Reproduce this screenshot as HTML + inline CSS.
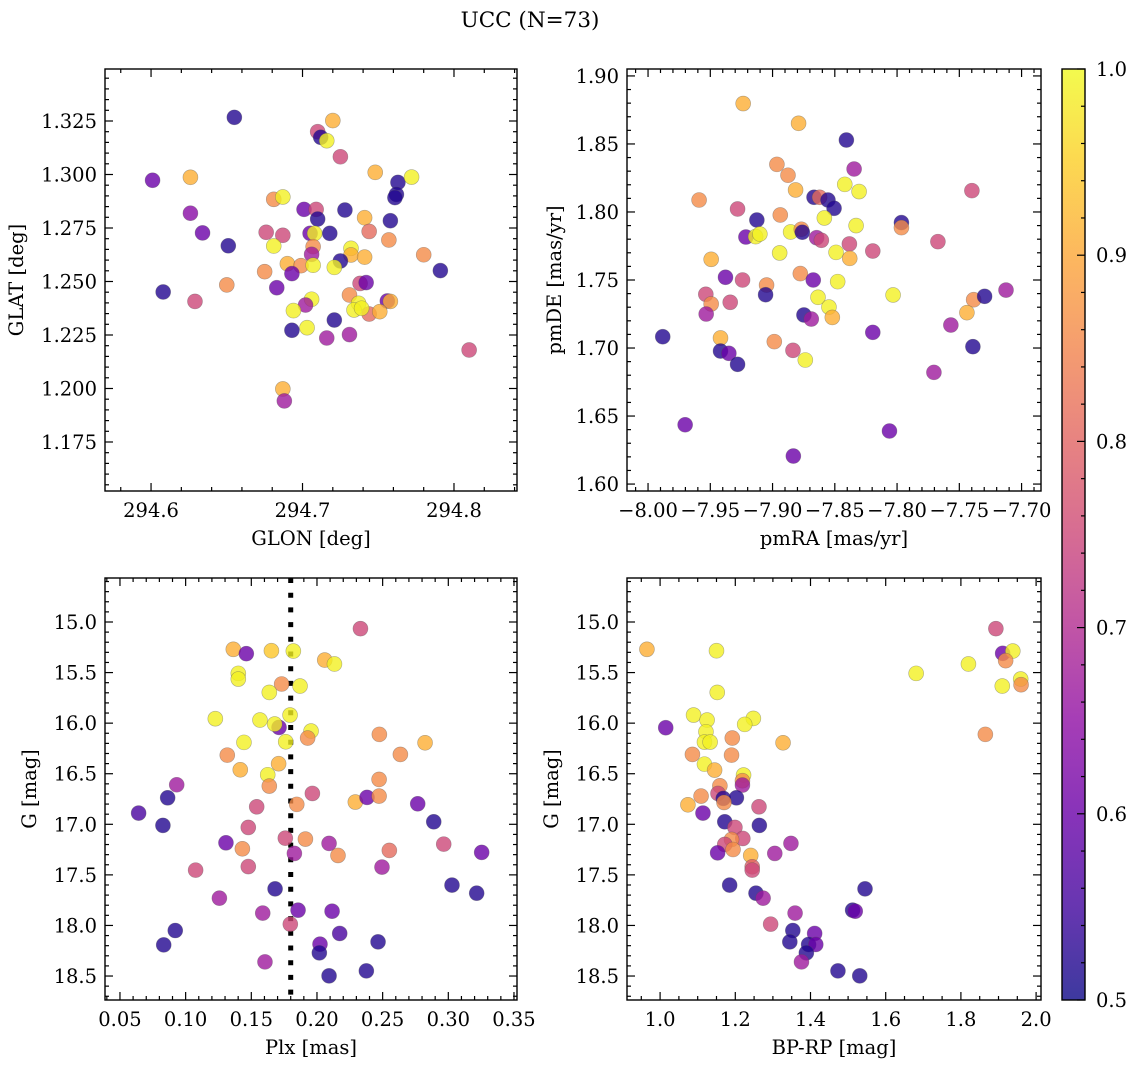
<!DOCTYPE html>
<html><head><meta charset="utf-8"><style>
html,body{margin:0;padding:0;background:#fff;}
svg text{font-family:"DejaVu Serif","Liberation Serif",serif;fill:#000;}
</style></head><body>
<svg id="fig" width="1136" height="1068" viewBox="0 0 1136 1068" xmlns="http://www.w3.org/2000/svg">
<text x="530" y="27" font-size="21.5" text-anchor="middle">UCC (N=73)</text>
</svg>
<script>
// ---- Panel 1: GLON / GLAT ----
const glon = [294.655,294.720,294.710,294.712,294.716,294.725,294.601,294.626,294.748,294.763,294.772,294.762,294.761,294.681,294.687,294.626,294.701,294.709,294.710,294.728,294.741,294.758,294.634,294.676,294.687,294.705,294.708,294.718,294.744,294.757,294.651,294.681,294.707,294.706,294.732,294.732,294.741,294.725,294.690,294.699,294.707,294.721,294.780,294.791,294.675,294.693,294.683,294.608,294.629,294.650,294.738,294.742,294.731,294.756,294.758,294.706,294.702,294.694,294.737,294.734,294.744,294.751,294.739,294.721,294.693,294.703,294.716,294.731,294.810,294.687,294.688];
const glat = [1.3267,1.3252,1.320,1.3174,1.3158,1.3083,1.2973,1.2987,1.301,1.2963,1.2988,1.2907,1.2892,1.2884,1.2895,1.2819,1.2837,1.2837,1.2792,1.2834,1.2798,1.2784,1.2727,1.273,1.2716,1.2725,1.2725,1.2725,1.2734,1.2694,1.2667,1.2666,1.2663,1.2627,1.2655,1.2624,1.2614,1.2596,1.2583,1.2574,1.2576,1.2566,1.2625,1.2551,1.2546,1.2537,1.2471,1.2451,1.2407,1.2484,1.2491,1.2495,1.2437,1.2409,1.2407,1.2417,1.239,1.2364,1.2398,1.2367,1.2348,1.2359,1.2375,1.232,1.2272,1.2284,1.2236,1.2252,1.218,1.1998,1.1942];
const prob1 = [0.52,0.91,0.75,0.52,0.99,0.75,0.6,0.91,0.91,0.52,0.99,0.52,0.52,0.86,0.99,0.64,0.6,0.75,0.52,0.52,0.91,0.52,0.6,0.75,0.75,0.6,0.99,0.52,0.81,0.86,0.52,0.99,0.86,0.67,0.99,0.91,0.91,0.52,0.91,0.86,0.99,0.99,0.86,0.52,0.86,0.6,0.6,0.52,0.75,0.86,0.75,0.6,0.86,0.6,0.91,0.99,0.67,0.99,0.99,0.99,0.81,0.91,0.99,0.52,0.52,0.99,0.67,0.67,0.75,0.91,0.67];
// ---- Panel 2: pmRA / pmDE ----
const pmra = [-7.9236,-7.8791,-7.8407,-7.8345,-7.8965,-7.8876,-7.842,-7.8305,-7.8815,-7.8667,-7.8622,-7.8555,-7.8506,-7.959,-7.9281,-7.7399,-7.9126,-7.8938,-7.8584,-7.8329,-7.7965,-7.7965,-7.9214,-7.9136,-7.9102,-7.8855,-7.8769,-7.8761,-7.8646,-7.8608,-7.8383,-7.8195,-7.7672,-7.8943,-7.849,-7.838,-7.9493,-7.9378,-7.9241,-7.9048,-7.9056,-7.8777,-7.8673,-7.8477,-7.9536,-7.9493,-7.934,-7.9533,-7.8635,-7.8547,-7.852,-7.8748,-7.8689,-7.8032,-7.7385,-7.7297,-7.7125,-7.7439,-7.7568,-7.8195,-7.9882,-7.9418,-7.9418,-7.9351,-7.9281,-7.8986,-7.8836,-7.8737,-7.7391,-7.7704,-7.9702,-7.8061,-7.8833];
const pmde = [1.8797,1.8652,1.8529,1.8316,1.835,1.827,1.8203,1.815,1.8162,1.8108,1.8108,1.8088,1.8027,1.8088,1.8022,1.8157,1.7941,1.7978,1.7956,1.79,1.7922,1.7885,1.7816,1.7819,1.7838,1.7853,1.7873,1.7851,1.7811,1.7792,1.7765,1.7713,1.7782,1.7699,1.7703,1.7659,1.7652,1.752,1.75,1.7463,1.7392,1.7547,1.75,1.7488,1.7395,1.7324,1.7336,1.725,1.7373,1.7301,1.7225,1.7243,1.7213,1.739,1.7355,1.738,1.7426,1.726,1.7169,1.7115,1.7083,1.7074,1.6978,1.6961,1.688,1.7047,1.6983,1.6912,1.701,1.6821,1.6436,1.639,1.6206];
const prob2 = [0.91,0.91,0.52,0.67,0.86,0.86,0.99,0.99,0.91,0.52,0.81,0.52,0.52,0.86,0.75,0.75,0.52,0.86,0.99,0.99,0.52,0.86,0.6,0.99,0.99,0.99,0.86,0.52,0.67,0.75,0.75,0.75,0.75,0.99,0.99,0.91,0.91,0.6,0.75,0.86,0.52,0.86,0.6,0.99,0.75,0.86,0.75,0.67,0.99,0.99,0.91,0.52,0.67,0.99,0.86,0.52,0.67,0.91,0.67,0.6,0.52,0.91,0.52,0.6,0.52,0.86,0.75,0.99,0.52,0.67,0.6,0.6,0.6];
// ---- Panel 3: Plx / G ----
const plx = [0.2331,0.1363,0.1462,0.1653,0.182,0.2059,0.2133,0.1401,0.1401,0.1731,0.1871,0.1637,0.1795,0.1226,0.1566,0.1711,0.1678,0.1955,0.1929,0.1444,0.1762,0.2475,0.2823,0.1317,0.2635,0.1416,0.1708,0.1625,0.1637,0.0932,0.0863,0.0642,0.0827,0.1541,0.1846,0.1965,0.2292,0.2381,0.2473,0.2473,0.2767,0.2889,0.1477,0.1307,0.1432,0.1759,0.1912,0.1828,0.2092,0.216,0.2551,0.2965,0.3254,0.1076,0.1477,0.2495,0.1681,0.3028,0.3216,0.1257,0.1587,0.1856,0.2115,0.1797,0.0921,0.0833,0.2173,0.2023,0.2018,0.2465,0.1604,0.2092,0.2376];
const gmag3 = [15.066,15.27,15.313,15.284,15.287,15.376,15.415,15.508,15.564,15.613,15.633,15.696,15.92,15.956,15.969,16.042,16.009,16.078,16.147,16.19,16.184,16.111,16.194,16.316,16.309,16.461,16.401,16.51,16.622,16.609,16.738,16.889,17.011,16.827,16.803,16.695,16.78,16.734,16.556,16.721,16.797,16.975,17.031,17.183,17.242,17.137,17.146,17.288,17.189,17.308,17.258,17.196,17.278,17.453,17.418,17.423,17.638,17.601,17.681,17.73,17.878,17.849,17.859,17.987,18.05,18.192,18.079,18.185,18.271,18.162,18.36,18.498,18.449];
const prob3 = [0.75,0.91,0.6,0.94,0.99,0.91,0.99,0.99,0.99,0.86,0.99,0.99,0.99,0.99,0.99,0.6,0.99,0.99,0.86,0.99,0.99,0.86,0.91,0.86,0.86,0.91,0.91,0.99,0.86,0.67,0.52,0.56,0.52,0.75,0.86,0.75,0.91,0.6,0.86,0.86,0.6,0.52,0.75,0.6,0.86,0.75,0.86,0.67,0.67,0.86,0.81,0.75,0.6,0.75,0.75,0.67,0.52,0.52,0.52,0.67,0.67,0.6,0.6,0.75,0.52,0.52,0.56,0.6,0.52,0.52,0.67,0.52,0.52];
const cutPlx = 0.18;
// ---- Panel 4: BP-RP / G ----
const bprp = [1.893,0.965,1.150,1.911,1.938,1.919,1.820,1.681,1.910,1.959,1.960,1.152,1.089,1.125,1.248,1.225,1.015,1.122,1.118,1.133,1.192,1.327,1.086,1.190,1.118,1.145,1.865,1.222,1.219,1.219,1.159,1.154,1.168,1.203,1.170,1.109,1.074,1.114,1.263,1.172,1.264,1.199,1.220,1.190,1.172,1.194,1.153,1.305,1.348,1.241,1.245,1.245,1.185,1.255,1.274,1.545,1.512,1.519,1.359,1.294,1.353,1.411,1.345,1.395,1.414,1.389,1.376,1.473,1.531];
const gmag4 = [15.066,15.27,15.284,15.31,15.287,15.382,15.415,15.508,15.633,15.564,15.62,15.696,15.92,15.969,15.953,16.012,16.045,16.085,16.187,16.187,16.147,16.194,16.309,16.316,16.405,16.464,16.111,16.513,16.569,16.612,16.619,16.695,16.744,16.738,16.784,16.721,16.807,16.889,16.827,16.975,17.011,17.031,17.14,17.15,17.199,17.249,17.282,17.288,17.189,17.308,17.42,17.453,17.601,17.681,17.73,17.638,17.849,17.859,17.878,17.987,18.05,18.079,18.162,18.188,18.188,18.271,18.36,18.449,18.498];
const prob4 = [0.75,0.91,0.99,0.6,0.99,0.86,0.99,0.99,0.99,0.99,0.86,0.99,0.99,0.99,0.99,0.99,0.6,0.99,0.99,0.99,0.86,0.91,0.86,0.86,0.99,0.91,0.86,0.99,0.86,0.67,0.86,0.75,0.52,0.52,0.86,0.86,0.91,0.6,0.75,0.52,0.52,0.75,0.75,0.86,0.75,0.86,0.6,0.67,0.67,0.91,0.79,0.75,0.52,0.52,0.67,0.52,0.52,0.6,0.67,0.75,0.52,0.6,0.52,0.52,0.6,0.52,0.67,0.52,0.52];
// ---- Colorbar ----
const cbTicks = [0.5,0.6,0.7,0.8,0.9,1.0];
const vmin = 0.5, vmax = 1.0;

const NS = "http://www.w3.org/2000/svg";
const svg = document.getElementById('fig');
const TICKFS = 19.5, LABFS = 19.5;
function mk(tag, attrs, parent){
  const e = document.createElementNS(NS, tag);
  for (const k in attrs) e.setAttribute(k, attrs[k]);
  (parent||svg).appendChild(e);
  return e;
}
const stops = [[13,8,135],[65,4,157],[106,0,168],[143,13,164],[177,42,144],[204,71,120],[225,100,98],[242,132,75],[252,166,54],[252,206,37],[240,249,33]];
function plasma(t){
  t = Math.max(0, Math.min(1, t));
  const f = t*10, i = Math.min(9, Math.floor(f)), r = f - i;
  const a = stops[i], b = stops[i+1];
  return `rgb(${Math.round(a[0]+(b[0]-a[0])*r)},${Math.round(a[1]+(b[1]-a[1])*r)},${Math.round(a[2]+(b[2]-a[2])*r)})`;
}
function cmap(v){ return plasma((v - vmin)/(vmax - vmin)); }
function fmt(v, d){ const s = Math.abs(v).toFixed(d); return (v < -1e-9 ? '\u2212' : '') + s; }

function panel(cfg){
  const {name, L, T, R, B, xmin, xmax, ymin, ymax, invY} = cfg;
  const g = mk('g', {});
  
  
  const sx = v => L + (v - xmin)/(xmax - xmin)*(R - L);
  const sy = v => invY ? T + (v - ymin)/(ymax - ymin)*(B - T) : B - (v - ymin)/(ymax - ymin)*(B - T);
  const clip = mk('clipPath', {id: name+'-clip'}, g);
  mk('rect', {x: L, y: T, width: R-L, height: B-T}, clip);
  const marks = mk('g', {'clip-path': `url(#${name}-clip)`}, g);
  
  
  if (cfg.vline !== undefined) {
    const vl = mk('line', {x1: sx(cfg.vline), x2: sx(cfg.vline), y1: T, y2: B, stroke: '#000', 'stroke-width': 5, 'stroke-dasharray': '5 9.7'}, marks);
    
    
  }
  for (let i = 0; i < cfg.xs.length; i++) {
    const c = mk('circle', {cx: sx(cfg.xs[i]), cy: sy(cfg.ys[i]), r: 7.5, fill: cmap(cfg.ps[i]), 'fill-opacity': 0.8, stroke: '#555', 'stroke-opacity': 0.45, 'stroke-width': 0.6}, marks);
    
    
  }
  const ax = mk('g', {stroke: '#000', 'stroke-width': 1.2}, g);
  
  
  const eps = 1e-9;
  for (let v = Math.ceil(xmin/cfg.xminor - eps)*cfg.xminor; v <= xmax + eps; v += cfg.xminor) {
    const x = sx(v);
    const major = Math.abs(v/cfg.xmajor - Math.round(v/cfg.xmajor)) < 1e-4;
    const len = major ? 8 : 4;
    mk('line', {x1: x, x2: x, y1: B, y2: B - len}, ax);
    mk('line', {x1: x, x2: x, y1: T, y2: T + len}, ax);
    if (major) {
      const t = mk('text', {x: x, y: B + 26, 'font-size': TICKFS, 'text-anchor': 'middle', stroke: 'none'}, g);
      t.textContent = fmt(v, cfg.xdec);
      
      
    }
  }
  for (let v = Math.ceil(ymin/cfg.yminor - eps)*cfg.yminor; v <= ymax + eps; v += cfg.yminor) {
    const y = sy(v);
    const major = Math.abs(v/cfg.ymajor - Math.round(v/cfg.ymajor)) < 1e-4;
    const len = major ? 8 : 4;
    mk('line', {x1: L, x2: L + len, y1: y, y2: y}, ax);
    mk('line', {x1: R, x2: R - len, y1: y, y2: y}, ax);
    if (major) {
      const t = mk('text', {x: L - 8, y: y + 7, 'font-size': TICKFS, 'text-anchor': 'end', stroke: 'none'}, g);
      t.textContent = fmt(v, cfg.ydec);
      
      
    }
  }
  mk('rect', {x: L, y: T, width: R-L, height: B-T, fill: 'none', stroke: '#000', 'stroke-width': 1.4}, g);
  const xl = mk('text', {x: (L+R)/2, y: B + 54, 'font-size': LABFS, 'text-anchor': 'middle'}, g);
  xl.textContent = cfg.xlabel;
  
  
  const yx = cfg.ylabx, yc = (T+B)/2;
  const yl = mk('text', {x: yx, y: yc, 'font-size': LABFS, 'text-anchor': 'middle', transform: `rotate(-90 ${yx} ${yc})`}, g);
  yl.textContent = cfg.ylabel;
  
  
}

panel({name:'panel-glon-glat', L:105, T:69, R:517, B:491, xmin:294.5696, xmax:294.8416, ymin:1.1521, ymax:1.3493,
  xs:glon, ys:glat, ps:prob1, xmajor:0.1, xminor:0.02, xdec:1, ymajor:0.025, yminor:0.005, ydec:3,
  xlabel:'GLON [deg]', ylabel:'GLAT [deg]', ylabx:23});
panel({name:'panel-pm', L:627, T:69, R:1041, B:491, xmin:-8.0169, xmax:-7.6844, ymin:1.5949, ymax:1.9051,
  xs:pmra, ys:pmde, ps:prob2, xmajor:0.05, xminor:0.01, xdec:2, ymajor:0.05, yminor:0.01, ydec:2,
  xlabel:'pmRA [mas/yr]', ylabel:'pmDE [mas/yr]', ylabx:561});
panel({name:'panel-plx-g', L:105, T:578, R:517, B:1000, xmin:0.0386, xmax:0.3523, ymin:14.565, ymax:18.737, invY:true,
  xs:plx, ys:gmag3, ps:prob3, xmajor:0.05, xminor:0.01, xdec:2, ymajor:0.5, yminor:0.1, ydec:1,
  xlabel:'Plx [mas]', ylabel:'G [mag]', ylabx:36, vline:cutPlx});
panel({name:'panel-cmd', L:627, T:578, R:1041, B:1000, xmin:0.912, xmax:2.013, ymin:14.565, ymax:18.737, invY:true,
  xs:bprp, ys:gmag4, ps:prob4, xmajor:0.2, xminor:0.05, xdec:1, ymajor:0.5, yminor:0.1, ydec:1,
  xlabel:'BP-RP [mag]', ylabel:'G [mag]', ylabx:558});

(function(){
  const L = 1062, R = 1085, T = 69, B = 1000;
  const g = mk('g', {});
  
  
  const defs = mk('defs', {}, g);
  const lg = mk('linearGradient', {id: 'cbgrad', x1: 0, y1: 1, x2: 0, y2: 0}, defs);
  for (let i = 0; i <= 20; i++) {
    mk('stop', {offset: i/20, 'stop-color': plasma(i/20), 'stop-opacity': 0.8}, lg);
  }
  mk('rect', {x: L, y: T, width: R-L, height: B-T, fill: 'url(#cbgrad)'}, g);
  const sy = v => B - (v - vmin)/(vmax - vmin)*(B - T);
  for (let v = vmin; v <= vmax + 1e-9; v += 0.02) {
    const major = Math.abs(v*10 - Math.round(v*10)) < 1e-4;
    mk('line', {x1: R, x2: R - (major ? 8 : 4), y1: sy(v), y2: sy(v), stroke: '#000', 'stroke-width': 1.2}, g);
  }
  cbTicks.forEach(v => {
    const t = mk('text', {x: R + 11, y: sy(v) + 7, 'font-size': TICKFS}, g);
    t.textContent = v.toFixed(1);
    
    
  });
  mk('rect', {x: L, y: T, width: R-L, height: B-T, fill: 'none', stroke: '#000', 'stroke-width': 1.4}, g);
})();
</script>
</body></html>
